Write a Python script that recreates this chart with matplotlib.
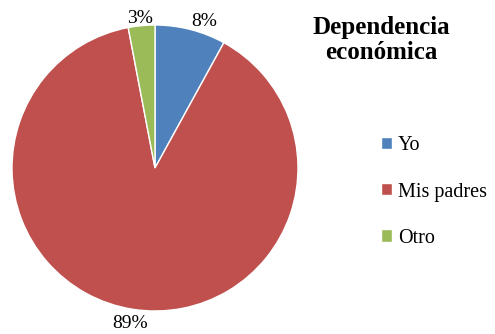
import matplotlib.pyplot as plt

labels = ["Yo", "Mis padres", "Otro"]
values = [8, 89, 3]
colors = ["#4F81BD", "#C0504D", "#9BBB59"]

plt.rcParams['font.family'] = ['Liberation Serif', 'DejaVu Serif']

fig = plt.figure(figsize=(4.95, 3.34), dpi=100)
ax = fig.add_axes([12/495, 23/334, 286/495, 286/334])

wedges, texts, autotexts = ax.pie(values, colors=colors, startangle=90, counterclock=False,
                                  autopct='%d%%', pctdistance=1.1,
                                  wedgeprops=dict(edgecolor='white', linewidth=1))
for t in autotexts:
    t.set_fontsize(14)
    t.set_clip_on(False)
# nudge the small labels a bit, like the original layout
x, y = autotexts[0].get_position()
autotexts[0].set_position((x + 0.07, y - 0.04))
x, y = autotexts[2].get_position()
autotexts[2].set_position((x, y - 0.05))
ax.set_xlim(-1, 1)
ax.set_ylim(-1, 1)
ax.set_aspect('equal')

fig.text(381/495, 1 - 40/334, "Dependencia\neconómica", ha='center', va='center',
         fontsize=18, fontweight='bold', linespacing=1.1)

fig.legend(wedges, labels, loc='center left', bbox_to_anchor=(381/495, 1 - 192/334),
           frameon=False, fontsize=14.5, handlelength=0.55, handleheight=0.55,
           handletextpad=0.3, labelspacing=1.35, borderpad=0, borderaxespad=0)

fig.savefig("out.png", dpi=100)
